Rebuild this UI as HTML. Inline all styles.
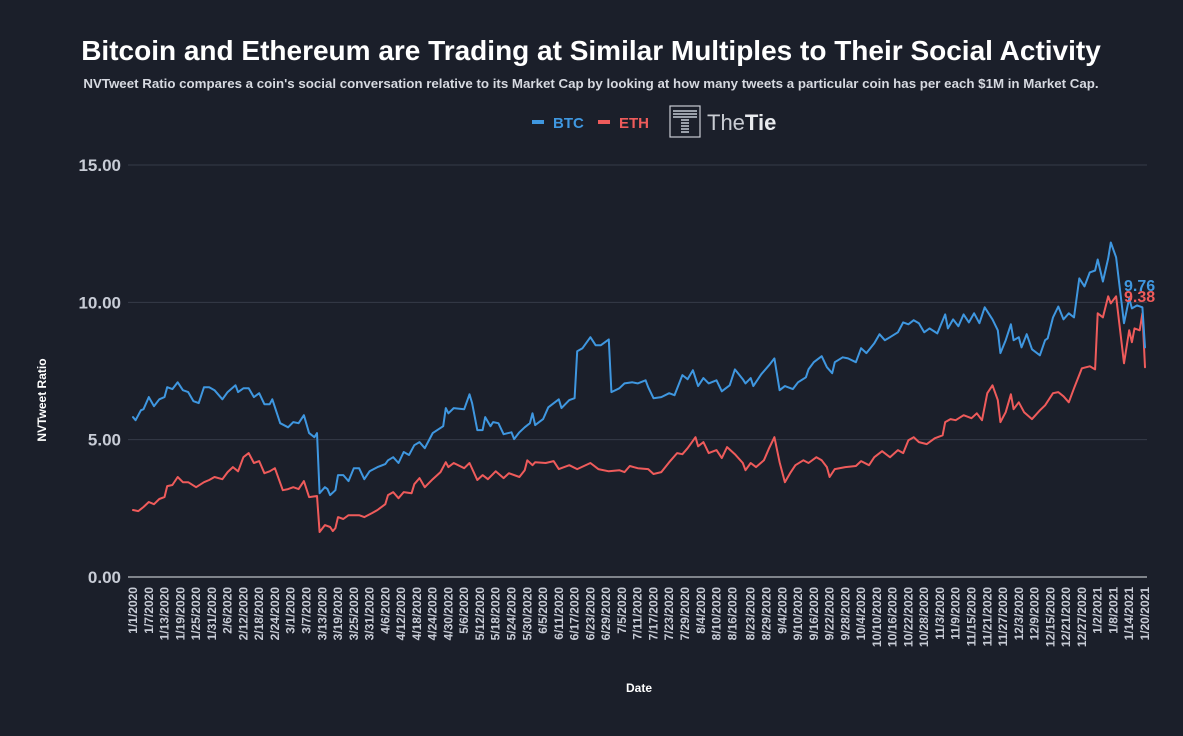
<!DOCTYPE html>
<html><head><meta charset="utf-8">
<style>
html,body{margin:0;padding:0;background:#1b1f2a;}
body{width:1183px;height:731px;overflow:hidden;font-family:"Liberation Sans",Arial,sans-serif;}
svg text{font-family:"Liberation Sans",Arial,sans-serif;}
</style></head>
<body>
<svg id="chart" width="1183" height="731" xmlns="http://www.w3.org/2000/svg">
<rect width="1183" height="731" fill="#1b1f2a"/>
<text x="591" y="60" text-anchor="middle" font-size="28" font-weight="bold" fill="#ffffff">Bitcoin and Ethereum are Trading at Similar Multiples to Their Social Activity</text>
<text x="591" y="88" text-anchor="middle" font-size="13.3" font-weight="bold" fill="#d6d9e0">NVTweet Ratio compares a coin's social conversation relative to its Market Cap by looking at how many tweets a particular coin has per each $1M in Market Cap.</text>
<g>
 <g>
  <rect x="532" y="120" width="12" height="4" fill="#3f97e0"/>
  <text x="553" y="128" font-size="15" font-weight="bold" fill="#3f97e0">BTC</text>
 </g>
 <g>
  <rect x="598" y="120" width="12" height="4" fill="#ef5b5b"/>
  <text x="619" y="128" font-size="15" font-weight="bold" fill="#ef5b5b">ETH</text>
 </g>
 <g>
  <rect x="670" y="106" width="30" height="31" fill="none" stroke="#c9ccd3" stroke-width="1.2"/>
  <rect x="673" y="110" width="24" height="2" fill="#9aa0aa"/>
  <rect x="673" y="113" width="24" height="2" fill="#9aa0aa"/>
  <rect x="673" y="116" width="24" height="2" fill="#9aa0aa"/>
  <rect x="681" y="119" width="8" height="2" fill="#9aa0aa"/>
  <rect x="681" y="122" width="8" height="2" fill="#9aa0aa"/>
  <rect x="681" y="125" width="8" height="2" fill="#9aa0aa"/>
  <rect x="681" y="128" width="8" height="2" fill="#9aa0aa"/>
  <rect x="681" y="131" width="8" height="2" fill="#9aa0aa"/>
  <text x="707" y="130" font-size="22" fill="#c9ccd3">The<tspan font-weight="bold" fill="#e8eaee">Tie</tspan></text>
 </g>
</g>
<g id="grid"></g>
<g id="yticks"></g>
<g id="xticks"></g>
<text transform="translate(46,400) rotate(-90)" text-anchor="middle" font-size="12" font-weight="bold" fill="#ffffff">NVTweet Ratio</text>
<text x="639" y="692" text-anchor="middle" font-size="12" font-weight="bold" fill="#ffffff">Date</text>
<g id="series"></g>
</svg>
<script>
const yTicks = [0, 5, 10, 15];
const yTickLabels = ["0.00", "5.00", "10.00", "15.00"];
const xTickDays = [0,6,12,18,24,30,36,42,48,54,60,66,72,78,84,90,96,102,108,114,120,126,132,138,144,150,156,162,168,174,180,186,192,198,204,210,216,222,228,235,241,247,253,259,265,271,277,283,289,295,301,307,313,319,325,331,337,343,349,355,361,367,373,379,385];
const xTickLabels = ["1/1/2020","1/7/2020","1/13/2020","1/19/2020","1/25/2020","1/31/2020","2/6/2020","2/12/2020","2/18/2020","2/24/2020","3/1/2020","3/7/2020","3/13/2020","3/19/2020","3/25/2020","3/31/2020","4/6/2020","4/12/2020","4/18/2020","4/24/2020","4/30/2020","5/6/2020","5/12/2020","5/18/2020","5/24/2020","5/30/2020","6/5/2020","6/11/2020","6/17/2020","6/23/2020","6/29/2020","7/5/2020","7/11/2020","7/17/2020","7/23/2020","7/29/2020","8/4/2020","8/10/2020","8/16/2020","8/23/2020","8/29/2020","9/4/2020","9/10/2020","9/16/2020","9/22/2020","9/28/2020","10/4/2020","10/10/2020","10/16/2020","10/22/2020","10/28/2020","11/3/2020","11/9/2020","11/15/2020","11/21/2020","11/27/2020","12/3/2020","12/9/2020","12/15/2020","12/21/2020","12/27/2020","1/2/2021","1/8/2021","1/14/2021","1/20/2021"];
const btcDays = [0,1,3,4,6,8,10,12,13,15,17,19,21,23,25,27,29,31,34,36,39,40,42,44,46,47,48,50,52,53,56,59,61,63,65,67,69,70,71,73,74,75,77,78,80,82,84,86,88,90,93,96,97,99,101,103,105,107,109,111,114,118,119,120,122,126,128,129,131,133,134,136,137,139,141,144,145,147,149,151,152,153,156,158,162,163,166,168,169,171,174,176,178,181,182,185,187,190,192,195,196,198,201,204,206,209,211,213,215,217,219,222,224,227,229,232,233,235,236,239,242,244,246,248,251,253,256,257,259,262,264,266,267,270,272,275,277,279,282,284,286,288,291,293,295,297,299,301,303,306,309,310,312,314,316,318,320,322,324,327,329,330,332,334,335,337,338,340,342,345,347,348,350,352,354,356,358,360,362,364,366,367,369,371,372,374,377,379,380,382,384,385];
const btcValues = [5.82,5.71,6.07,6.11,6.55,6.22,6.47,6.55,6.91,6.84,7.09,6.80,6.73,6.40,6.33,6.91,6.91,6.80,6.47,6.73,6.98,6.73,6.87,6.87,6.55,6.62,6.69,6.29,6.29,6.47,5.60,5.45,5.64,5.60,5.89,5.24,5.09,5.24,3.05,3.27,3.20,2.98,3.16,3.71,3.71,3.49,3.96,3.96,3.56,3.85,4.00,4.11,4.25,4.36,4.15,4.55,4.44,4.80,4.91,4.69,5.24,5.49,6.15,5.96,6.15,6.11,6.65,6.33,5.35,5.35,5.82,5.49,5.64,5.60,5.20,5.27,5.02,5.27,5.45,5.60,5.96,5.53,5.75,6.18,6.47,6.15,6.44,6.51,8.22,8.33,8.73,8.44,8.44,8.65,6.73,6.87,7.05,7.09,7.05,7.16,6.91,6.51,6.55,6.69,6.62,7.35,7.20,7.53,6.95,7.24,7.05,7.16,6.76,6.98,7.56,7.20,7.05,7.24,6.95,7.38,7.71,7.96,6.80,6.95,6.84,7.09,7.27,7.56,7.82,8.04,7.64,7.42,7.82,8.00,7.96,7.82,8.33,8.15,8.51,8.84,8.62,8.73,8.91,9.27,9.20,9.35,9.24,8.91,9.05,8.87,9.56,9.05,9.38,9.13,9.56,9.27,9.60,9.24,9.82,9.38,8.98,8.15,8.62,9.20,8.62,8.73,8.36,8.84,8.29,8.07,8.62,8.69,9.45,9.85,9.38,9.60,9.45,10.87,10.58,11.09,11.16,11.56,10.76,11.60,12.18,11.64,9.24,10.15,9.78,9.89,9.82,8.36];
const ethDays = [0,2,4,6,8,10,12,13,15,17,19,21,24,27,29,31,34,36,38,40,42,44,46,48,50,52,54,57,59,61,63,65,67,70,71,73,75,76,77,78,80,82,86,88,91,93,96,97,99,101,103,106,107,109,111,114,117,119,120,122,126,128,131,133,135,138,141,143,147,149,150,152,153,157,160,162,166,169,174,177,181,185,187,189,192,196,198,201,204,207,209,211,214,215,217,219,222,224,226,229,232,233,235,237,240,242,244,246,248,250,252,255,257,260,262,264,265,267,271,275,277,280,282,285,288,291,293,295,297,299,302,305,308,309,311,313,316,319,321,323,325,327,329,330,332,334,335,337,339,342,345,347,350,352,354,356,358,361,364,366,367,369,371,372,374,377,379,380,381,383,384,385];
const ethValues = [2.44,2.40,2.55,2.73,2.65,2.84,2.91,3.31,3.35,3.64,3.45,3.45,3.27,3.45,3.53,3.64,3.56,3.82,4.00,3.85,4.36,4.51,4.15,4.22,3.78,3.85,3.96,3.16,3.20,3.27,3.20,3.49,2.91,2.95,1.64,1.89,1.82,1.67,1.78,2.18,2.11,2.25,2.25,2.18,2.33,2.44,2.65,2.98,3.09,2.87,3.09,3.05,3.38,3.60,3.27,3.56,3.82,4.18,4.00,4.15,3.96,4.15,3.53,3.71,3.56,3.85,3.60,3.78,3.64,3.89,4.25,4.07,4.18,4.15,4.22,3.93,4.07,3.93,4.15,3.93,3.85,3.89,3.82,4.04,3.96,3.93,3.75,3.82,4.18,4.51,4.47,4.69,5.09,4.76,4.91,4.51,4.62,4.33,4.73,4.47,4.15,3.89,4.15,4.00,4.25,4.69,5.09,4.18,3.45,3.78,4.07,4.25,4.15,4.36,4.25,4.00,3.64,3.93,4.00,4.04,4.22,4.07,4.36,4.58,4.36,4.62,4.51,4.98,5.09,4.91,4.84,5.05,5.16,5.64,5.75,5.71,5.89,5.78,5.96,5.71,6.69,6.98,6.44,5.64,6.00,6.65,6.11,6.36,6.00,5.75,6.07,6.25,6.69,6.73,6.58,6.36,6.87,7.60,7.67,7.56,9.60,9.45,10.22,9.96,10.22,7.78,8.98,8.55,9.05,8.98,9.60,7.64];
const btcLastLabel = "9.76";
const ethLastLabel = "9.38";

const NS = "http://www.w3.org/2000/svg";
const X0 = 133, X1 = 1145, Y0 = 577, Y15 = 165;
function xScale(d){ return X0 + d * (X1 - X0) / 385; }
function yScale(v){ return Y0 - v * (Y0 - Y15) / 15; }
function mk(tag, attrs, parent){ const e = document.createElementNS(NS, tag); for (const k in attrs) e.setAttribute(k, attrs[k]); parent.appendChild(e); return e; }

const grid = document.getElementById('grid');
const yg = document.getElementById('yticks');
yTicks.forEach((v, i) => {
  const ln = mk('line', {x1: 128, x2: 1147, y1: yScale(v), y2: yScale(v), stroke: v === 0 ? '#e6e8ec' : '#363b48', 'stroke-width': 1}, grid);
  
  
  const t = mk('text', {x: 121, y: yScale(v) + 6, 'text-anchor': 'end', 'font-size': 17, 'font-weight': 'bold', fill: '#c8ccd6'}, yg);
  t.textContent = yTickLabels[i];
  
  
});

const xg = document.getElementById('xticks');
xTickDays.forEach((d, i) => {
  const x = xScale(d) + 4;
  const t = mk('text', {transform: 'translate(' + x + ',587) rotate(-90)', 'text-anchor': 'end', 'font-size': 12, 'font-weight': 'bold', fill: '#c8ccd6'}, xg);
  t.textContent = xTickLabels[i];
  
  
});

const sg = document.getElementById('series');
function drawLine(days, vals, color, name){
  let d = '';
  days.forEach((dd, i) => { d += (i ? 'L' : 'M') + xScale(dd).toFixed(1) + ',' + yScale(vals[i]).toFixed(1); });
  const p = mk('path', {d: d, fill: 'none', stroke: color, 'stroke-width': 2, 'stroke-linejoin': 'round', 'stroke-linecap': 'round'}, sg);
  
  
}
drawLine(ethDays, ethValues, '#ef5b5b', 'eth-line');
drawLine(btcDays, btcValues, '#3f97e0', 'btc-line');

const bl = mk('text', {x: 1124, y: 291, 'font-size': 16, 'font-weight': 'bold', fill: '#3f97e0'}, sg);
bl.textContent = btcLastLabel;


const el = mk('text', {x: 1124, y: 302, 'font-size': 16, 'font-weight': 'bold', fill: '#ef5b5b'}, sg);
el.textContent = ethLastLabel;


</script>
</body></html>
